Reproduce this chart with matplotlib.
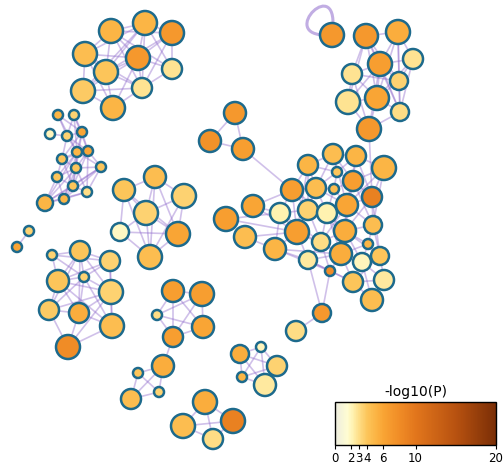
import matplotlib
matplotlib.use("Agg")
import matplotlib.pyplot as plt
from matplotlib.patches import Circle, PathPatch
from matplotlib.path import Path
from matplotlib.colors import LinearSegmentedColormap, Normalize
from matplotlib.cm import ScalarMappable

# ---- network layout (pixel coordinates), node radius and -log10(P) ----
node_x = [111, 145, 172, 85, 138, 106, 172, 83, 142, 113,            # A
          332, 366, 398, 380, 413, 352, 399, 348, 377, 400, 369,     # B
          58, 74, 50, 67, 82, 77, 88, 62, 76, 101, 57, 73, 87, 45, 64,  # C
          29, 17,                                                    # pair
          155, 124, 184, 146, 120, 178, 150,                         # D
          52, 80, 110, 58, 84, 111, 49, 79, 112, 68,                 # E
          173, 202, 157, 203, 173,                                   # F
          163, 138, 159, 131,                                        # G
          240, 261, 277, 242, 265,                                   # I
          205, 233, 183, 213,                                        # J
          235, 210, 243,                                             # K
          322, 296,                                                  # L
          333, 356, 308, 384, 337, 292, 316, 334, 353, 372,          # H
          253, 280, 308, 327, 347, 226, 373, 297, 345, 245,
          321, 368, 275, 341, 308, 380, 362, 330, 353, 384, 372]
node_y = [32, 24, 34, 55, 59, 73, 70, 92, 89, 109,
          36, 37, 33, 65, 60, 75, 82, 103, 99, 113, 130,
          116, 116, 135, 137, 133, 153, 152, 160, 169, 168, 178, 187, 193, 204, 200,
          232, 248,
          178, 191, 197, 214, 233, 235, 258,
          256, 252, 262, 282, 278, 293, 311, 314, 327, 348,
          292, 295, 316, 328, 338,
          367, 374, 393, 400,
          355, 348, 367, 378, 386,
          403, 422, 427, 440,
          114, 142, 150,
          314, 332,
          155, 157, 166, 169, 173, 191, 189, 190, 182, 198,
          207, 214, 211, 214, 206, 220, 226, 233, 232, 238,
          243, 245, 250, 255, 261, 257, 263, 272, 283, 281, 301]
node_r = [12, 12, 12, 12, 12, 12, 10, 12, 10, 12,
          12, 12, 12, 12, 10, 10, 9, 12, 12, 9, 12,
          5, 5, 5, 5, 5, 5, 5, 5, 5, 5, 5, 5, 5, 8, 5,
          5, 5,
          11, 11, 12, 12, 9, 12, 12,
          5, 10, 10, 11, 5, 12, 10, 10, 12, 12,
          11, 12, 5, 11, 10,
          11, 5, 5, 10,
          9, 5, 10, 5, 11,
          12, 12, 12, 10,
          11, 11, 11,
          9, 10,
          10, 10, 10, 12, 5, 11, 10, 5, 10, 10,
          11, 10, 10, 10, 11, 12, 9, 12, 11, 11,
          9, 5, 11, 11, 9, 9, 9, 5, 10, 10, 11]
node_logp = [5, 5, 7, 4.5, 7, 4, 2.8, 3.8, 2.8, 5,
             7, 7, 5.5, 6.5, 2.8, 2.8, 3.5, 2.8, 6, 3, 7,
             5, 3.5, 2, 3.5, 6, 5, 6, 4, 4, 4, 4, 4, 3, 5, 5,
             3.5, 6,
             4.5, 4, 3.5, 3.5, 1.8, 6, 4.5,
             3.5, 4, 3.5, 4, 3.5, 3.5, 3.8, 5.5, 4.5, 8,
             6.5, 6.5, 3, 6, 6.5,
             5.5, 4, 3.5, 4.5,
             5.5, 2, 3.5, 5, 2.5,
             5.5, 9, 4.5, 3,
             7, 7.5, 6.5,
             7, 3,
             4.5, 5, 5, 5, 4, 6.5, 4.5, 4.5, 6.5, 9,
             6, 2.2, 3.5, 2.2, 6, 6.5, 4.5, 6.5, 5.5, 4.5,
             3, 5, 5, 5.5, 2.5, 4, 2, 8, 4, 2.5, 4.5]

edges = """
0-1 0-2 0-3 0-4 0-5 0-6 0-8 1-2 1-3 1-4 1-5 1-6 1-8 2-4 2-5 2-6 2-8 3-4 3-5 3-7 3-8
4-5 4-6 4-7 4-8 4-9 5-7 5-8 5-9 6-8 7-8 7-9 8-9 1-7 3-9
11-12 11-13 11-15 11-18 11-16 11-17 12-13 12-14 12-16 12-18 13-14 13-15 13-16 13-17
13-18 13-19 14-16 14-18 15-17 15-18 15-16 16-18 16-19 17-18 17-20 18-19 18-20 19-20
11-19 14-19 13-20 15-20 12-19 20-87
21-24 21-25 21-26 22-24 22-25 22-26 22-27 23-24 24-25 24-26 24-27 24-28 25-26 25-27
25-29 26-27 26-28 26-29 26-30 26-31 26-32 27-28 27-29 27-30 27-32 27-33 28-29 28-31
28-32 29-30 29-31 29-32 29-33 29-35 30-32 30-33 30-35 31-32 31-34 31-35 32-33 32-34
32-35 33-34 33-35 34-35 34-29 34-26 34-30 35-26 25-28
36-37
38-39 38-40 38-41 38-43 39-41 39-42 39-44 40-41 40-43 41-42 41-43 41-44 42-43 42-44
43-44 39-43 38-44 40-44
45-46 45-48 45-49 45-47 46-47 46-48 46-49 46-50 46-52 47-49 47-50 47-48 47-53 48-49
48-50 48-51 48-52 48-53 49-50 49-51 49-52 49-53 50-51 50-52 50-53 51-52 51-54 52-53
52-54 53-54 50-54 46-51
55-56 55-57 55-58 55-59 56-57 56-58 56-59 57-58 57-59 58-59
59-60 60-61 60-62 60-63 61-62 61-63 62-63
64-65 64-66 64-67 64-68 65-66 65-67 66-67 66-68 67-68 65-68
69-70 69-71 69-72 70-72 71-72 70-71
73-74 73-75 74-75 75-83
76-77 102-76 105-76
78-79 78-80 78-82 78-84 78-86 78-92 79-81 79-82 79-86 79-87 79-92 80-83 80-84 80-82
80-90 81-86 81-87 81-92 81-94 82-84 82-85 82-86 83-84 83-89 83-90 83-95 83-88 83-91
84-85 84-90 84-91 84-95 85-86 85-91 85-92 86-87 86-92 86-96 87-92 87-94 87-96 88-89
88-95 89-90 89-95 89-98 90-91 90-95 90-98 91-92 91-96 91-98 91-101 92-94 92-96 92-101
93-89 93-95 94-96 94-99 94-103 95-98 95-100 95-101 95-102 96-98 96-99 96-101 96-103
96-104 97-100 97-95 98-101 98-102 98-105 99-101 99-103 99-104 100-102 100-101 100-105
101-102 101-104 101-105 101-106 102-105 102-106 103-104 103-107 103-106 104-106
104-107 104-108 105-106 106-107 106-108 107-108 90-96 84-92 80-95 86-94 87-103 92-98
89-100
"""
edge_list = [tuple(int(v) for v in e.split("-")) for e in edges.split()]
self_loop_node = 10

cbar_ticks = [0, 2, 3, 4, 6, 10, 20]

# ---- colour scale for -log10(P) ----
stops = [(0, "#ededdf"), (1.5, "#fffcd2"), (2.2, "#fff2b0"), (3, "#fedc84"),
         (4, "#fcc55a"), (5, "#fbb545"), (6, "#f9a434"), (8, "#f08c26"),
         (10, "#e2761c"), (15, "#b85210"), (20, "#7a2e06")]
cmap = LinearSegmentedColormap.from_list("logp", [(v / 20, c) for v, c in stops])
norm = Normalize(0, 20)

W, H = 503, 464
fig = plt.figure(figsize=(W / 100, H / 100), dpi=100)
ax = fig.add_axes([0, 0, 1, 1])
ax.set_xlim(0, W)
ax.set_ylim(H, 0)
ax.axis("off")

edge_color = (0.56, 0.42, 0.80)
for a, b in edge_list:
    ax.plot([node_x[a], node_x[b]], [node_y[a], node_y[b]],
            color=edge_color, alpha=0.42, lw=1.2, zorder=1,
            solid_capstyle="round")

# self-loop
cx, cy = node_x[self_loop_node], node_y[self_loop_node]
loop = Path([(cx - 4, cy), (cx - 58, cy + 2), (cx + 10, cy - 66), (cx, cy)],
            [Path.MOVETO, Path.CURVE4, Path.CURVE4, Path.CURVE4])
ax.add_patch(PathPatch(loop, fill=False, edgecolor=edge_color, alpha=0.55,
                       lw=2.2, zorder=1))

for x, y, r, v in zip(node_x, node_y, node_r, node_logp):
    ax.add_patch(Circle((x, y), r, facecolor=cmap(norm(v)),
                        edgecolor="#1d6a8c", lw=1.8, zorder=3))

# ---- colour bar ----
cax = fig.add_axes([335 / W, (H - 446) / H, 161 / W, 43 / H])
cb = fig.colorbar(ScalarMappable(norm=norm, cmap=cmap), cax=cax,
                  orientation="horizontal", ticks=cbar_ticks)
cb.outline.set_linewidth(1.0)
cb.outline.set_edgecolor("black")
cax.tick_params(labelsize=8.5, length=3, width=0.8, pad=1)
cax.set_xticklabels([str(t) for t in cbar_ticks])
cax.set_title("-log10(P)", fontsize=10, pad=5)

fig.savefig("out.png", dpi=100)
